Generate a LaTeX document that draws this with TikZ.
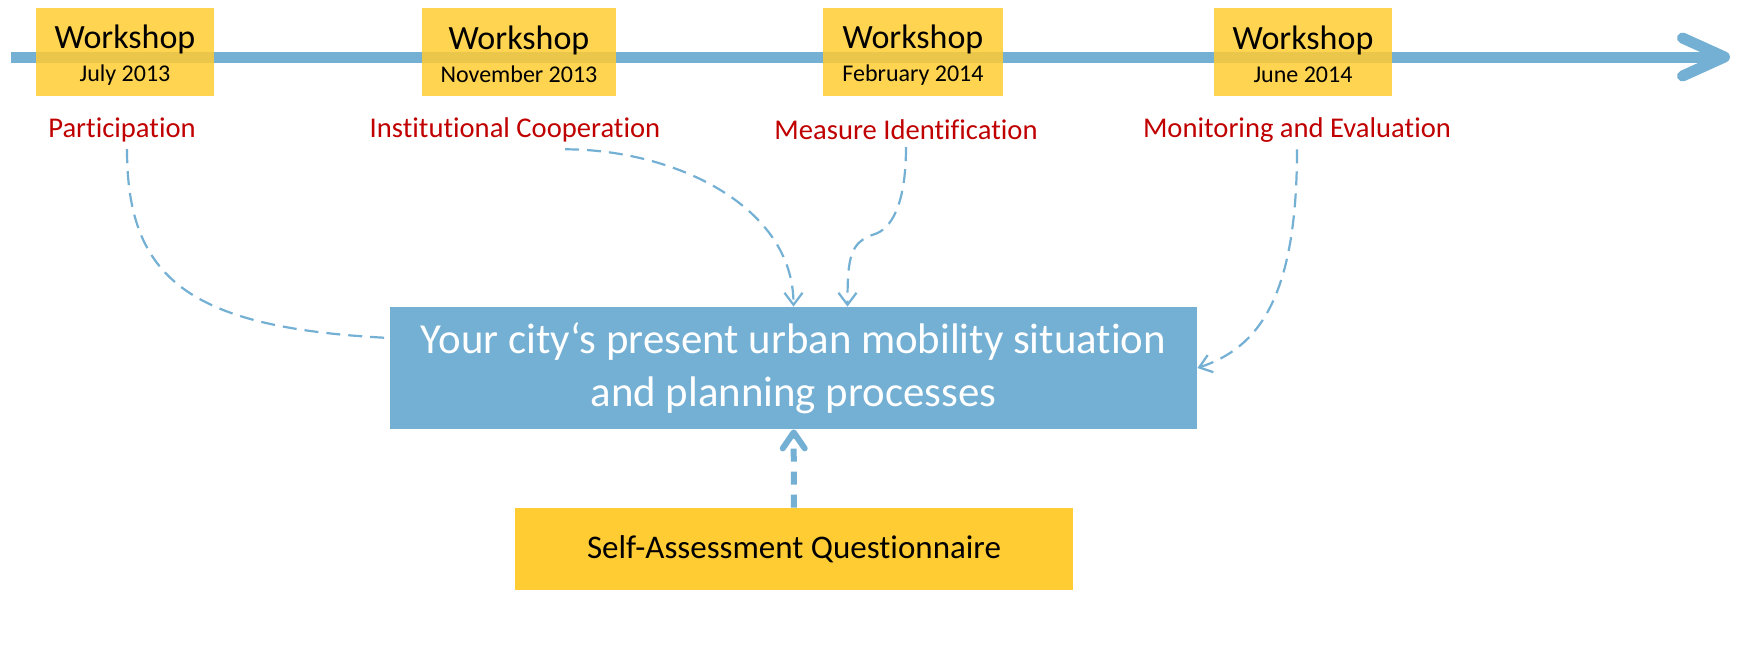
\documentclass[tikz,border=0pt]{standalone}
\usepackage{fontspec}
\setmainfont{Carlito}[Ligatures=NoCommon]
\usetikzlibrary{positioning,arrows.meta}
\definecolor{lineblue}{RGB}{116,176,212}
\definecolor{boxyellow}{RGB}{255,204,51}
\definecolor{labelred}{RGB}{192,0,0}

\begin{document}
\begin{tikzpicture}[x=0.5pt,y=-0.5pt,
    workshop/.style={fill=boxyellow, fill opacity=0.85, text opacity=1, align=center, minimum height=44pt, inner xsep=9.5pt, font=\fontsize{17}{16.5}\selectfont},
    topic/.style={text=labelred, font=\fontsize{14.3}{17}\selectfont},
    link/.style={draw=lineblue, line width=1.1pt, dash pattern=on 7pt off 4pt, -{Straight Barb[length=6pt,width=9pt]}}]
    \useasboundingbox (0,0) rectangle (1737,655);
    % Timeline
    \coordinate (start) at (11,57);
    \coordinate (finish) at (1730,57);
    \draw[lineblue, line width=5.5pt, -{Straight Barb[length=21pt,width=19pt,round]}] (start) -- (finish);
    % Nodes
    \node[workshop] (july) at (125,52) {\rule{0pt}{14.5pt}Workshop\\{\fontsize{12}{16.5}\selectfont July 2013}};
    \node[workshop] (november) at (519,52) {\rule{0pt}{14.5pt}Workshop\\{\fontsize{12}{16.5}\selectfont November 2013}};
    \node[workshop] (february) at (913,52) {\rule{0pt}{14.5pt}Workshop\\{\fontsize{12}{16.5}\selectfont February 2014}};
    \node[workshop] (june) at (1303,52) {\rule{0pt}{14.5pt}Workshop\\{\fontsize{12}{16.5}\selectfont June 2014}};
    \node[topic] (participation) at (122,130) {Participation};
    \node[topic] (cooperation) at (515,130) {Institutional Cooperation};
    \node[topic] (identification) at (906,130) {Measure Identification};
    \node[topic] (monitoring) at (1297,130) {Monitoring and Evaluation};
    \node[fill=lineblue, text=white, align=center, minimum width=403.5pt, minimum height=61pt, font=\fontsize{21.4}{26.5}\selectfont] (situation) at (793.5,368) {Your city‘s present urban mobility situation\\and planning processes};
    \node[fill=boxyellow, minimum width=279pt, minimum height=41pt, font=\fontsize{16.5}{20}\selectfont] (questionnaire) at (794,549) {Self-Assessment Questionnaire};
    \coordinate (kink) at (875,234);
    % Arrows
    \draw[link, -] ([xshift=2.5pt]participation.south) .. controls +(0,130) and +(-200,-10) .. ([yshift=15pt]situation.west);
    \draw[link] ([xshift=25pt]cooperation.south) .. controls +(110,0) and +(0,-100) .. (situation.north);
    \draw[link] (identification.south) .. controls +(0,60) and +(15,-5) .. (kink) .. controls +(-25,8) and +(0,-50) .. ([xshift=27pt]situation.north);
    \draw[link] (monitoring.south) .. controls +(0,150) and +(60,-20) .. (situation.east);
    \draw[lineblue, line width=3pt, dash pattern=on 6.5pt off 5pt, -{Straight Barb[length=8pt,width=11pt,round]}] (questionnaire) -- (situation);
\end{tikzpicture}
\end{document}
